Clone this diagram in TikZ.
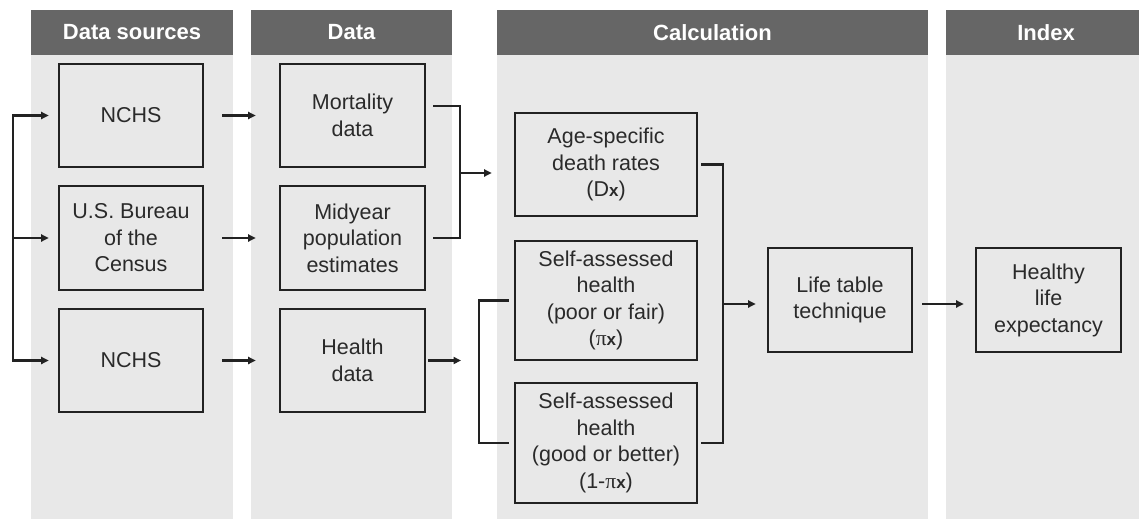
\documentclass[tikz,border=0pt]{standalone}
\usepackage{fontspec}
\setmainfont{Liberation Sans}
\newfontfamily\serifgr{Liberation Serif}
\usetikzlibrary{arrows.meta,calc}
\definecolor{hdr}{HTML}{666666}
\definecolor{pnl}{HTML}{E8E8E8}
\definecolor{ink}{HTML}{222222}
\definecolor{txt}{HTML}{2A2A2A}
\newcommand{\subx}{{\bfseries\fontsize{17}{20}\selectfont x}}
\newcommand{\pig}{{\serifgr π}}
\begin{document}
\begin{tikzpicture}[x=1pt,y=-1pt,
  box/.style={draw=ink, line width=2.6pt, rectangle, align=center, text=txt,
    font=\fontsize{21.5}{26.5}\selectfont, inner sep=0pt},
  hdrbox/.style={fill=hdr, text=white, font=\fontsize{22}{26}\selectfont\bfseries,
    inner sep=0pt, minimum height=45pt},
  conn/.style={draw=ink, line width=2.2pt},
  arr/.style={conn, -{Triangle[length=7.5pt,width=7pt]}},
]
\useasboundingbox (0,0) rectangle (1139,519);
% panels
\fill[pnl] (31,55) rectangle (233,519);
\fill[pnl] (251,55) rectangle (452,519);
\fill[pnl] (497,55) rectangle (928,519);
\fill[pnl] (946,55) rectangle (1139,519);
% headers
\node[hdrbox, minimum width=202pt] (h1) at (132,32.5) {Data sources};
\node[hdrbox, minimum width=201pt] (h2) at (351.5,32.5) {Data};
\node[hdrbox, minimum width=431pt] (h3) at (712.5,32.5) {Calculation};
\node[hdrbox, minimum width=193pt] (h4) at (1042.5,32.5) {\hspace*{7pt}Index};
% boxes
\node[box, minimum width=144pt, minimum height=103pt] (s1) at (131,115.5) {NCHS};
\node[box, minimum width=144pt, minimum height=104pt] (s2) at (131,238) {U.S. Bureau\\of the\\Census};
\node[box, minimum width=144pt, minimum height=103pt] (s3) at (131,360.5) {NCHS};
\node[box, minimum width=145pt, minimum height=103pt] (d1) at (352.5,115.5) {Mortality\\data};
\node[box, minimum width=145pt, minimum height=104pt] (d2) at (352.5,238) {Midyear\\population\\estimates};
\node[box, minimum width=145pt, minimum height=103pt] (d3) at (352.5,360.5) {Health\\data};
\node[box, minimum width=182pt, minimum height=103pt] (c1) at (606,164.5) {Age-specific\\death rates\\(D\subx)};
\node[box, minimum width=182pt, minimum height=119pt] (c2) at (606,300.5) {Self-assessed\\health\\(poor or fair)\\(\pig\subx)};
\node[box, minimum width=182pt, minimum height=120pt] (c3) at (606,443) {Self-assessed\\health\\(good or better)\\(1-\pig\subx)};
\node[box, minimum width=144pt, minimum height=104pt] (lt) at (840,300) {Life table\\technique};
\node[box, minimum width=145pt, minimum height=104pt] (hl) at (1048.5,300) {Healthy\\life\\expectancy};
% connector coordinates
\coordinate (lb) at (13,238);
\coordinate (mb) at (460,173);
\coordinate (cb) at (479,370);
\coordinate (rb) at (723,304);
% left bracket
\draw[arr, shorten >=9pt] (lb |- s3.west) |- (s1.west);
\draw[arr, shorten >=9pt] (lb |- s1.west) |- (s3.west);
\draw[arr, shorten >=9pt] (lb) -- (s2.west);
% sources -> data
\draw[arr, shorten <=18pt, shorten >=23pt] (s1.east) -- (d1.west);
\draw[arr, shorten <=18pt, shorten >=23pt] (s2.east) -- (d2.west);
\draw[arr, shorten <=18pt, shorten >=23pt] (s3.east) -- (d3.west);
% mortality + midyear -> death rates
\draw[conn] ([xshift=7pt,yshift=9.5pt]d1.east) -| (mb) |- ([xshift=7pt]d2.east);
\draw[arr, shorten >=22pt] (mb) -- (mb -| c1.west);
% health data -> bracket
\draw[arr, shorten <=2pt, shorten >=18pt] (d3.east) -- (d3.east -| cb);
% calc left bracket
\draw[conn] ([xshift=-5pt]c2.west) -| (cb |- c3.west) -- ([xshift=-5pt]c3.west);
% right bracket
\draw[conn] ([xshift=3pt]c1.east) -| (rb) |- ([xshift=3pt]c3.east);
\draw[arr, shorten >=11pt] (rb) -- (rb -| lt.west);
\draw[arr, shorten <=9pt, shorten >=11pt] ([yshift=-4pt]lt.east) -- ([yshift=-4pt]hl.west);
\end{tikzpicture}
\end{document}
